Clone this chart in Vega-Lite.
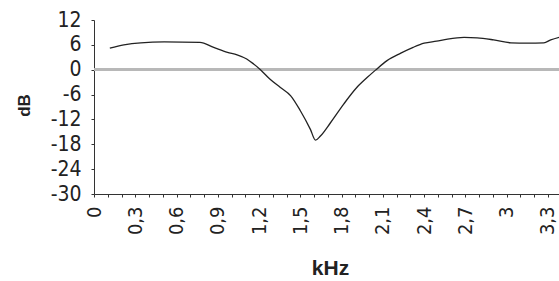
{
  "$schema": "https://vega.github.io/schema/vega-lite/v6.json",
  "autosize": "none",
  "padding": {"left": 94, "top": 20, "right": 0, "bottom": 87},
  "width": 465,
  "height": 174,
  "background": "white",
  "config": {
    "view": {"stroke": null},
    "axis": {
      "labelFont": "Liberation Sans Narrow, DejaVu Sans Condensed, sans-serif",
      "titleFont": "Liberation Sans, Arial, sans-serif",
      "labelColor": "#222",
      "domainColor": "#333",
      "tickColor": "#333",
      "grid": false,
      "labelOverlap": false,
      "labelFlush": false
    }
  },
  "data": {
    "values": [
      {"khz": 0.115, "db": 5.2},
      {"khz": 0.217, "db": 6.0},
      {"khz": 0.34, "db": 6.5},
      {"khz": 0.51, "db": 6.7},
      {"khz": 0.77, "db": 6.6},
      {"khz": 0.87, "db": 5.4},
      {"khz": 0.97, "db": 4.2},
      {"khz": 1.04, "db": 3.6},
      {"khz": 1.11, "db": 2.6},
      {"khz": 1.16, "db": 1.4},
      {"khz": 1.21, "db": 0.0},
      {"khz": 1.28, "db": -2.3},
      {"khz": 1.355, "db": -4.3},
      {"khz": 1.43, "db": -6.3},
      {"khz": 1.5, "db": -9.9},
      {"khz": 1.573, "db": -14.4},
      {"khz": 1.61, "db": -17.0},
      {"khz": 1.646, "db": -16.0},
      {"khz": 1.719, "db": -12.8},
      {"khz": 1.815, "db": -8.3},
      {"khz": 1.91, "db": -4.3},
      {"khz": 1.985, "db": -1.9},
      {"khz": 2.046, "db": -0.1},
      {"khz": 2.13, "db": 2.2},
      {"khz": 2.23, "db": 4.0},
      {"khz": 2.32, "db": 5.4},
      {"khz": 2.4, "db": 6.4},
      {"khz": 2.49, "db": 6.9},
      {"khz": 2.57, "db": 7.4},
      {"khz": 2.69, "db": 7.8},
      {"khz": 2.785, "db": 7.7},
      {"khz": 2.905, "db": 7.2},
      {"khz": 3.03, "db": 6.5},
      {"khz": 3.15, "db": 6.4},
      {"khz": 3.27, "db": 6.5},
      {"khz": 3.32, "db": 7.2},
      {"khz": 3.4, "db": 8.0}
    ]
  },
  "encoding": {
    "x": {
      "field": "khz",
      "type": "quantitative",
      "scale": {"domain": [0, 3.38], "nice": false, "zero": false},
      "axis": {
        "title": "kHz",
        "titleFontSize": 21,
        "titleFontWeight": "bold",
        "titleColor": "#222",
        "titleX": 236,
        "titleY": 74,
        "titleBaseline": "middle",
        "values": [0, 0.1, 0.2, 0.3, 0.4, 0.5, 0.6, 0.7, 0.8, 0.9, 1.0, 1.1, 1.2, 1.3, 1.4, 1.5, 1.6, 1.7, 1.8, 1.9, 2.0, 2.1, 2.2, 2.3, 2.4, 2.5, 2.6, 2.7, 2.8, 2.9, 3.0, 3.1, 3.2, 3.3],
        "labelExpr": "round(datum.value*10) % 3 === 0 ? replace(format(datum.value, '.1~f'), '.', ',') : ''",
        "labelAngle": 270,
        "labelFontSize": 20,
        "labelPadding": 9,
        "tickSize": 3
      }
    },
    "y": {
      "field": "db",
      "type": "quantitative",
      "scale": {"domain": [-30, 12], "nice": false, "zero": false},
      "axis": {
        "title": "dB",
        "titleFontSize": 17,
        "titleFontWeight": "bold",
        "titleColor": "#222",
        "titleAngle": 270,
        "titleX": -70,
        "titleY": 85,
        "titleBaseline": "middle",
        "values": [-30, -24, -18, -12, -6, 0, 6, 12],
        "labelExpr": "toString(datum.value)",
        "labelFontSize": 21,
        "labelPadding": 10,
        "tickSize": 3
      }
    }
  },
  "layer": [
    {
      "mark": {"type": "rule", "color": "#b8b8b8", "strokeWidth": 1.8},
      "encoding": {"y": {"datum": 0, "type": "quantitative"}, "x": null}
    },
    {
      "mark": {"type": "line", "color": "#222", "strokeWidth": 1.3, "interpolate": "monotone", "clip": true}
    }
  ]
}
